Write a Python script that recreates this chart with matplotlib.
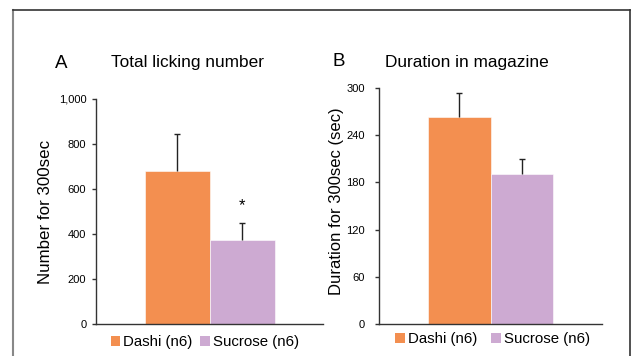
import matplotlib
matplotlib.use('Agg')
import matplotlib.pyplot as plt
from matplotlib.lines import Line2D
from matplotlib.patches import Patch
from matplotlib.ticker import FuncFormatter, MultipleLocator

plt.rcParams['font.family'] = ['Liberation Sans', 'DejaVu Sans']

W, H = 633, 356

groups = ["Dashi (n6)", "Sucrose (n6)"]
colors = ["#F38F50", "#CDAAD2"]

# Panel A: total licking number
lick_mean = [680, 373]
lick_sem = [164, 76]

# Panel B: duration in magazine (sec)
dur_mean = [263, 191]
dur_sem = [31, 19]


def px(x, y):
    """pixel position (from top-left) -> figure fraction"""
    return x / W, 1 - y / H


def draw_panel(ax, means, sems, ymax, step, xlim, pad, fmt=None):
    xs = list(range(len(means)))
    tops = [m + s for m, s in zip(means, sems)]
    ax.bar(xs, means, width=1.0, color=colors, edgecolor="white", linewidth=0.4)
    # one-sided error bars: stem from bar top, cap only at the upper end
    ax.vlines(xs, means, tops, color="#222222", linewidth=1, zorder=3)
    ax.plot(xs, tops, linestyle="none", marker="_", markersize=5,
            markeredgewidth=1, color="#222222", zorder=3)
    ax.set_xlim(*xlim)
    ax.set_ylim(0, ymax)
    ax.yaxis.set_major_locator(MultipleLocator(step))
    if fmt:
        ax.yaxis.set_major_formatter(fmt)
    ax.set_xticks([])
    ax.tick_params(axis="y", length=3, width=1, pad=pad, labelsize=8,
                   colors="#333333", labelcolor="black")
    for side in ("top", "right"):
        ax.spines[side].set_visible(False)
    for side in ("left", "bottom"):
        ax.spines[side].set_color("#333333")
        ax.spines[side].set_linewidth(1)
    handles = [Patch(facecolor=c, edgecolor="none") for c in colors]
    return handles


fig = plt.figure(figsize=(W / 100, H / 100), dpi=100)

# panel A
axA = fig.add_axes([96 / W, 32 / H, 227 / W, 225 / H])
hA = draw_panel(axA, lick_mean, lick_sem, 1000, 200, (-1.254, 2.246), 4,
                FuncFormatter(lambda v, p: f"{int(v):,}"))
axA.annotate("*", (1, lick_mean[1] + lick_sem[1]), xytext=(0, 7),
             textcoords="offset points", ha="center", va="bottom", fontsize=12)
axA.set_ylabel("Number for 300sec", fontsize=12.2)
axA.yaxis.set_label_coords(-0.19, 0.5)
axA.legend(hA, groups, loc="center", bbox_to_anchor=(0.48, -0.08), ncol=2,
           frameon=False, fontsize=10.8, handlelength=0.65, handleheight=0.65,
           handletextpad=0.2, columnspacing=0.5, borderpad=0)

# panel B
axB = fig.add_axes([379 / W, 32 / H, 223 / W, 236 / H])
hB = draw_panel(axB, dur_mean, dur_sem, 300, 60, (-1.27, 2.27), 7)
axB.set_ylabel("Duration for 300sec (sec)", fontsize=12)
axB.yaxis.set_label_coords(-0.157, 0.52)
axB.legend(hB, groups, loc="center", bbox_to_anchor=(0.51, -0.065), ncol=2,
           frameon=False, fontsize=10.8, handlelength=0.65, handleheight=0.65,
           handletextpad=0.2, columnspacing=0.9, borderpad=0)

# panel letters and titles
fig.text(*px(55, 63), "A", fontsize=13.5, va="center", ha="left")
fig.text(*px(111, 63), "Total licking number", fontsize=12.4, va="center", ha="left")
fig.text(*px(332, 62), "B", fontsize=13.5, va="center", ha="left")
fig.text(*px(385, 62), "Duration in magazine", fontsize=12.4, va="center", ha="left")

# outer frame
fig.add_artist(Line2D([13 / W, 13 / W], [0, 1 - 10 / H], color="#888888", lw=1.5))
fig.add_artist(Line2D([13 / W, 630 / W], [1 - 10 / H, 1 - 10 / H], color="#333333", lw=1.2))
fig.add_artist(Line2D([630 / W, 630 / W], [0, 1 - 10 / H], color="#333333", lw=1.2))

fig.savefig("out.png", dpi=100)
